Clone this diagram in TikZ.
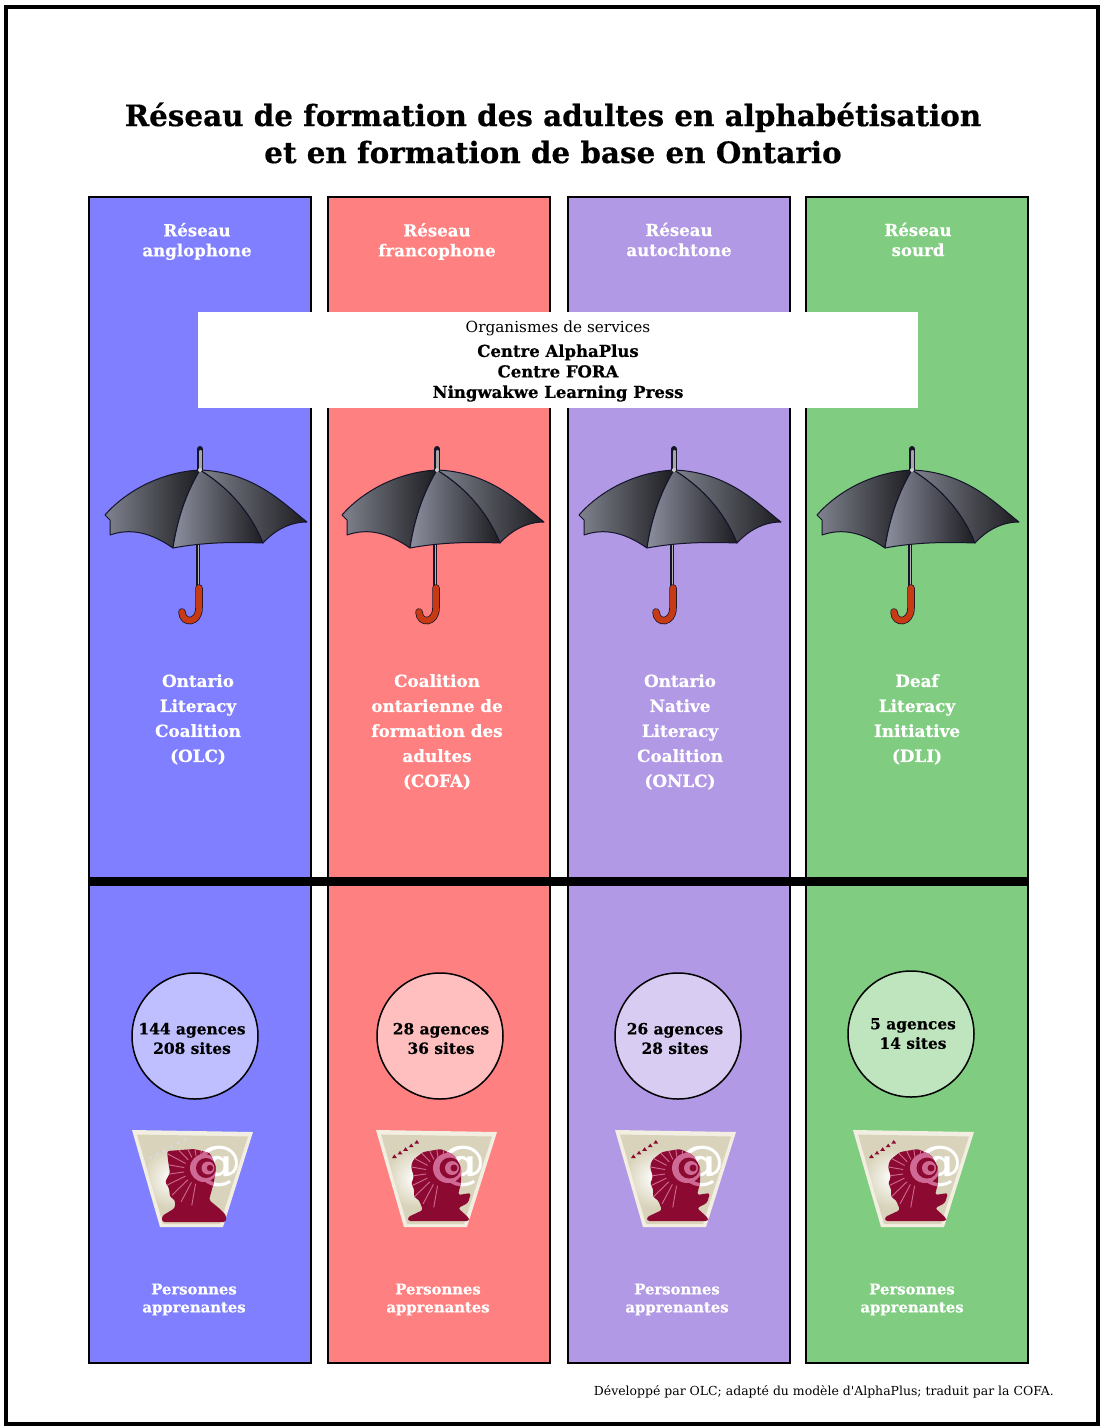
\documentclass[tikz,border=0pt]{standalone}
\usepackage{fontspec}
\setmainfont{DejaVu Serif}[BoldFeatures={FakeBold=0.5}]
\newfontfamily\creditfont{DejaVu Serif}
\definecolor{cblue}{HTML}{7F7FFF}
\definecolor{cred}{HTML}{FF8080}
\definecolor{cpurple}{HTML}{B299E5}
\definecolor{cgreen}{HTML}{80CC80}
\definecolor{lblue}{HTML}{BFBFFF}
\definecolor{lred}{HTML}{FFBFBF}
\definecolor{lpurple}{HTML}{D8CCF2}
\definecolor{lgreen}{HTML}{BFE5BF}
\definecolor{maroon}{HTML}{8C0A32}
\definecolor{beige}{HTML}{D8D3BA}
\definecolor{pale}{HTML}{F2EFE2}
\definecolor{pinky}{HTML}{CF6A94}
\definecolor{navy}{HTML}{14142A}
\definecolor{handle}{HTML}{C83A14}
\definecolor{ulight}{HTML}{80838E}
\definecolor{umid}{HTML}{8C8F9E}
\definecolor{udark}{HTML}{1C1C20}
\newcommand{\fs}[2]{\fontsize{#1}{#2}\selectfont}
\tikzset{
  panel/.style={draw=black,line width=1.5pt},
  head/.style={text=white,align=center,font=\fs{16.6}{20}\bfseries,inner sep=0pt},
  org/.style={text=white,align=center,font=\fs{16.8}{25}\bfseries,inner sep=0pt},
  learners/.style={text=white,align=center,font=\fs{14.8}{18}\bfseries,inner sep=0pt},
  count/.style={circle,draw=black,line width=1.5pt,minimum size=126pt,inner sep=0pt},
  countlabel/.style={align=center,inner sep=0pt,font=\fs{15.4}{19.5}\bfseries},
  rib/.style={draw=navy,line width=1pt,line join=round},
  umbrella/.pic={
    \draw[line width=4pt,navy] (-2,73) -- (-2,118);
    \draw[line width=1.6pt,gray!60!white] (-1.5,73) -- (-1.5,118);
    \draw[line width=6pt,navy,line cap=round] (0,-21) -- (0,0);
    \draw[line width=2.4pt,gray!70!white,line cap=round] (0.4,-19) -- (0.4,0);
    \draw[line width=7.5pt,navy,line cap=round] (-1,118) -- (-1,138) .. controls (-1,153) and (-17,155) .. (-18,142);
    \draw[line width=6pt,handle,line cap=round] (-1,118) -- (-1,138) .. controls (-1,153) and (-17,155) .. (-18,142);
    \shade[rib,left color=ulight,right color=udark]
      (0,0) .. controls (-40,2) and (-75,22) .. (-95,45) -- (-90,50) -- (-90,65)
      .. controls (-70,58) and (-50,62) .. (-27,78) .. controls (-22,45) and (-12,20) .. (0,0) -- cycle;
    \shade[rib,left color=umid,right color=udark]
      (0,0) .. controls (-12,20) and (-22,45) .. (-27,78)
      .. controls (5,72) and (35,72) .. (63,73) .. controls (50,40) and (25,15) .. (0,0) -- cycle;
    \shade[rib,left color=ulight,right color=udark]
      (0,0) .. controls (25,15) and (50,40) .. (63,73) .. controls (75,60) and (90,52) .. (107,52)
      .. controls (85,35) and (55,2) .. (0,0) -- cycle;
    \fill[gray!40!white] (0,0) circle[radius=2];
  },
  logobase/.pic={
    \fill[pale] (0,0) -- (121,2) -- (91,97) -- (28,97) -- cycle;
    \begin{scope}
      \clip (5,4.5) -- (116,6.5) -- (88,94) -- (31,94) -- cycle;
      \fill[beige] (0,0) rectangle (125,100);
      \shade[inner color=white,outer color=beige] (40,48) circle[radius=30];
    \end{scope}
    \node[text=white,font=\fs{46}{46}\bfseries,inner sep=0pt] (at) at (86,36) {@};
  },
  maleface/.pic={
    \pic {logobase};
    \foreach \i in {0,...,5}
      \fill[color=\marks] ({16+\i*7},{29-\i*3.7}) -- ++(2.3,-3.4) -- ++(2.3,3.4) -- cycle;
    \def\headpath{[rounded corners=2.5pt] (35,21) -- (62,19) -- (78,23) -- (84,37) -- (82,52) -- (77,70) -- (88,79) -- (94,85) -- (94,92) -- (30,92) -- (30,86) -- (43,78) -- (43,70) -- (38,67) -- (37,58) -- (33,52) -- (38,43) -- (36,30) -- cycle}
    \fill[maroon] \headpath;
    \begin{scope}
      \clip \headpath;
      \node[text=pinky,font=\fs{46}{46}\bfseries,inner sep=0pt] (atb) at (86,36) {@};
      \foreach \a in {100,118,...,280}
        \draw[pinky,line width=.9pt] (66,40) ++(\a:14) -- ++(\a:22);
      \fill[pinky] (72,38) circle[radius=14];
      \fill[maroon] (74,38) circle[radius=10];
      \fill[pinky] (76,38) circle[radius=6.5];
      \fill[maroon] (78,38) circle[radius=3.2];
    \end{scope}
  },
  femaleface/.pic={
    \pic {logobase};
    \foreach \i in {0,...,4}
      \fill[color=\marks] ({16+\i*5.6},{28-\i*3.6}) -- ++(2.4,-3.6) -- ++(2.4,3.6) -- cycle;
    \def\headpath{[rounded corners=2.5pt] (37,30) -- (47,22) -- (65,19) -- (78,25) -- (85,37) -- (85,53) -- (82,65) -- (95,63) -- (92,73) -- (82,78) -- (93,88) -- (93,91) -- (32,91) -- (32,87) -- (47,80) -- (43,70) -- (38,67) -- (38,58) -- (35,54) -- (38,47) -- (35,37) -- cycle}
    \fill[maroon] \headpath;
    \begin{scope}
      \clip \headpath;
      \node[text=pinky,font=\fs{46}{46}\bfseries,inner sep=0pt] (atb) at (86,36) {@};
      \foreach \a in {100,118,...,280}
        \draw[pinky,line width=.9pt] (64,42) ++(\a:14) -- ++(\a:22);
      \fill[pinky] (72,38) circle[radius=15];
      \fill[maroon] (74,38) circle[radius=10.5];
      \fill[pinky] (76,38) circle[radius=7];
      \fill[maroon] (78,38) circle[radius=3.5];
    \end{scope}
  },
}
\begin{document}
\begin{tikzpicture}[x=1pt,y=-1pt]
\useasboundingbox (0,0) rectangle (1101,1427);
\fill[white] (0,0) rectangle (1101,1427);
\draw[black,line width=3.5pt] (6,7) rectangle (1098,1424);

\node[font=\fs{29.4}{37}\bfseries,align=center,inner sep=0pt] (title) at (553,133)
  {Réseau de formation des adultes en alphabétisation\\et en formation de base en Ontario};

\draw[panel,fill=cblue]   (89,197)  rectangle (311,1363);
\draw[panel,fill=cred]    (328,197) rectangle (550,1363);
\draw[panel,fill=cpurple] (568,197) rectangle (790,1363);
\draw[panel,fill=cgreen]  (806,197) rectangle (1028,1363);

\node[head] (h1) at (197,241.5) {Réseau\\anglophone};
\node[head] (h2) at (437,241.5) {Réseau\\francophone};
\node[head] (h3) at (679,239.5) {Réseau\\autochtone};
\node[head] (h4) at (918,239.5) {Réseau\\sourd};

\fill[white] (198,312) rectangle (918,408);
\node[align=center,inner sep=0pt,font=\fs{15.3}{20}] (svc) at (558,328) {Organismes de services};
\node[align=center,inner sep=0pt,font=\fs{16.5}{20.5}\bfseries] (svcn) at (558,373)
  {Centre AlphaPlus\\Centre FORA\\Ningwakwe Learning Press};

\pic (u1) at (200,470) {umbrella};
\pic (u2) at (437,470) {umbrella};
\pic (u3) at (674,470) {umbrella};
\pic (u4) at (912,470) {umbrella};

\node[org,anchor=north] (o1) at (198,674) {Ontario\\Literacy\\Coalition\\(OLC)};
\node[org,anchor=north] (o2) at (437,674) {Coalition\\ontarienne de\\formation des\\adultes\\(COFA)};
\node[org,anchor=north] (o3) at (680,674) {Ontario\\Native\\Literacy\\Coalition\\(ONLC)};
\node[org,anchor=north] (o4) at (917,674) {Deaf\\Literacy\\Initiative\\(DLI)};

\fill[black] (89,877) rectangle (1028,886);

\node[count,fill=lblue]   (c1) at (195,1036) {};
\node[count,fill=lred]    (c2) at (440,1036) {};
\node[count,fill=lpurple] (c3) at (678,1036) {};
\node[count,fill=lgreen]  (c4) at (911,1034) {};
\node[countlabel] (t1) at (192,1038.5) {144 agences\\208 sites};
\node[countlabel] (t2) at (441,1038.5) {28 agences\\36 sites};
\node[countlabel] (t3) at (675,1038.5) {26 agences\\28 sites};
\node[countlabel] (t4) at (913,1033.5) {5 agences\\14 sites};

\def\marks{gray!30!white}
\pic (l1) at (132,1130) {maleface};
\def\marks{maroon}
\pic (l2) at (376,1130) {femaleface};
\pic (l3) at (615,1130) {femaleface};
\pic (l4) at (853,1130) {femaleface};

\node[learners] (p1) at (194,1299.5) {Personnes\\apprenantes};
\node[learners] (p2) at (438,1299.5) {Personnes\\apprenantes};
\node[learners] (p3) at (677,1299.5) {Personnes\\apprenantes};
\node[learners] (p4) at (912,1299.5) {Personnes\\apprenantes};

\node[anchor=east,inner sep=0pt,font=\creditfont\fs{12.45}{14}] (credit) at (1054,1392)
  {Développé par OLC; adapté du modèle d'AlphaPlus; traduit par la COFA.};
\end{tikzpicture}
\end{document}
